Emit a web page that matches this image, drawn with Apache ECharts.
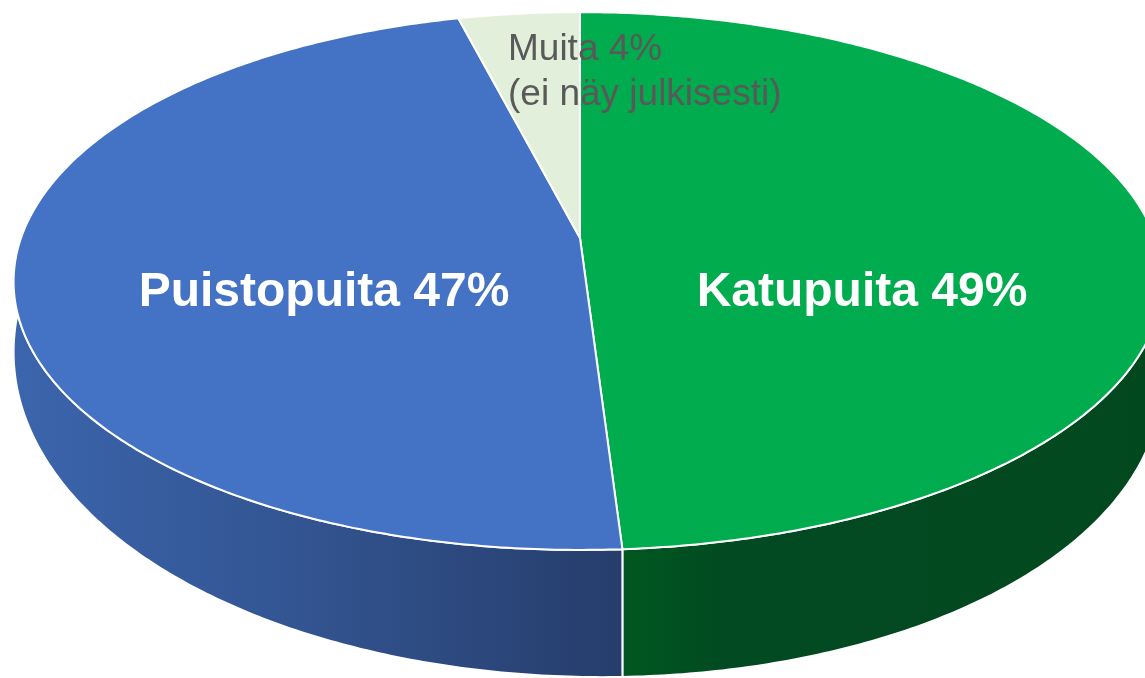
<!DOCTYPE html>
<html>
<head>
<meta charset="utf-8">
<script src="https://cdn.jsdelivr.net/npm/echarts@6/dist/echarts.min.js"></script>
<style>
  html, body { margin: 0; padding: 0; background: #fff; }
  #main { width: 1145px; height: 678px; }
</style>
</head>
<body>
<div id="main"></div>
<script>
// data
const categories = ['Katupuita', 'Puistopuita', 'Muita']
const shares = [49, 47, 4]
const notes = ['', '', '(ei näy julkisesti)']

// styles
const topColors = ['#00ac4e', '#4472c4', '#e2efda']
const wallStops = [
  [[0, '#00571f'], [0.2, '#024a22'], [1, '#02481f']],
  [[0, '#3b65ad'], [0.5, '#32538f'], [1, '#263d6b']],
  [[0, '#b7c9ab'], [1, '#a0b396']]
]
const labelColors = ['#ffffff', '#ffffff', '#595959']

// tilted disc, simple perspective (screen px)
const CX = 580, CY = 238, B = 262, K = 0.16
const labelAnchor = [[862, 293, 'center', 'middle'], [324, 293, 'center', 'middle'], [508, 27, 'left', 'top']]

const total = shares.reduce((s, v) => s + v, 0)
const angles = []
let acc = 0
shares.forEach((v) => {
  const a0 = acc / total * Math.PI * 2
  acc += v
  angles.push([a0, acc / total * Math.PI * 2])
})

function project(phi, r, z) {
  const u = r * Math.sin(phi)
  const v = -r * Math.cos(phi)
  const w = 1 - K * v
  const a = 567 + 8 * u
  // wall is thicker at the front, a bit thicker on the right
  const depth = Math.max(40, 76 + 51 * v + 14 * u)
  return [CX + a * u / w, CY + B * v / w + depth * z]
}

function arc(a0, a1, z) {
  const n = Math.max(4, Math.ceil((a1 - a0) / 0.01))
  const pts = []
  for (let k = 0; k <= n; k++) {
    pts.push(project(a0 + (a1 - a0) * k / n, 1, z))
  }
  return pts
}

const seriesData = shares.map((v, i) => [i, v])

const myChart = echarts.init(document.getElementById('main'))

const option = {
  animation: false,
  series: [
    {
      type: 'custom',
      name: 'walls',
      coordinateSystem: 'none',
      z: 1,
      data: seriesData,
      renderItem: (params, api) => {
        const i = params.dataIndex
        const [a0, a1] = angles[i]
        const pts = arc(a0, a1, 0).concat(arc(a0, a1, 1).reverse())
        const f0 = Math.max(a0, Math.PI / 2)
        const f1 = Math.min(a1, Math.PI * 1.5)
        let x0 = project(a0, 1, 0)[0], x1 = project(a1, 1, 0)[0]
        if (f1 > f0) {
          x0 = project(f0, 1, 0)[0]
          x1 = project(f1, 1, 0)[0]
        }
        // gradient runs from the outer side towards the front seam
        let stops = wallStops[i].map((s) => ({ offset: s[0], color: s[1] }))
        let gx0 = Math.min(x0, x1), gx1 = Math.max(x0, x1) + 1
        if (i === 1) {
          gx0 = Math.min(x0, x1) - 8
        }
        return {
          type: 'polygon',
          shape: { points: pts },
          style: {
            fill: { type: 'linear', x: gx0, y: 0, x2: gx1, y2: 0, global: true, colorStops: stops },
            stroke: '#ffffff',
            lineWidth: 2
          }
        }
      }
    },
    {
      type: 'custom',
      name: 'tops',
      coordinateSystem: 'none',
      z: 2,
      data: seriesData,
      renderItem: (params, api) => {
        const i = params.dataIndex
        const [a0, a1] = angles[i]
        const pts = [project(0, 0, 0)].concat(arc(a0, a1, 0))
        const anchor = labelAnchor[i]
        const big = api.value(1) / total > 0.1
        const text = categories[i] + ' ' + api.value(1) + '%' + (notes[i] ? '\n' + notes[i] : '')
        return {
          type: 'group',
          children: [
            {
              type: 'polygon',
              shape: { points: pts },
              style: { fill: topColors[i], stroke: '#ffffff', lineWidth: 2 }
            },
            {
              type: 'text',
              z2: 10,
              style: {
                text: text,
                x: anchor[0],
                y: anchor[1],
                align: anchor[2],
                verticalAlign: anchor[3],
                fill: labelColors[i],
                fontFamily: 'Liberation Sans, Arial, sans-serif',
                fontSize: big ? 48 : 37,
                fontWeight: big ? 'bold' : 'normal',
                lineHeight: 45
              }
            }
          ]
        }
      }
    }
  ]
}

myChart.setOption(option)
</script>
</body>
</html>
